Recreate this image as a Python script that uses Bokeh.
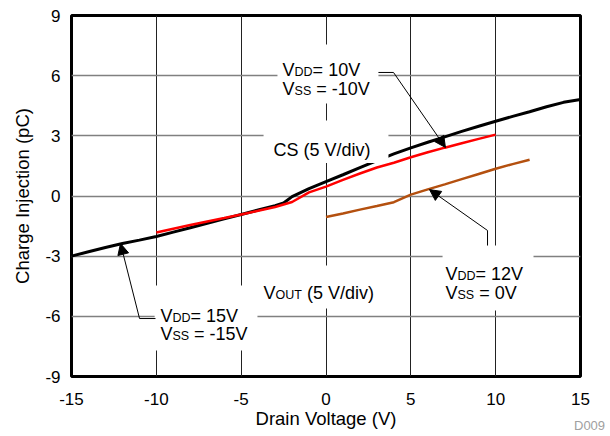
from bokeh.plotting import figure
from bokeh.layouts import column
from bokeh.models import Range1d, FixedTicker, BoxAnnotation, Label, Arrow, NormalHead, Div
from bokeh.embed import file_html
from bokeh.resources import INLINE

# ---------------- data ----------------
x_ticks = [-15, -10, -5, 0, 5, 10, 15]
x_tick_labels = ["-15", "-10", "-5", "0", "5", "10", "15"]
y_ticks = [-9, -6, -3, 0, 3, 6, 9]
y_tick_labels = ["-9", "-6", "-3", "0", "3", "6", "9"]

# VDD = 15V, VSS = -15V (black)
x_15 = [-15, -14, -13, -12, -11, -10, -9, -8, -7, -6, -5, -4, -3, -2.5, -2, -1, 0,
        1, 2, 3, 4, 5, 6, 7, 8, 9, 10, 11, 12, 13, 14, 15]
q_15 = [-3.0, -2.78, -2.57, -2.37, -2.2, -2.02, -1.8, -1.58, -1.36, -1.14, -0.92, -0.7,
        -0.48, -0.35, -0.03, 0.37, 0.72, 1.06, 1.41, 1.76, 2.1, 2.4, 2.68, 2.95, 3.22,
        3.48, 3.73, 3.97, 4.2, 4.45, 4.67, 4.81]

# VDD = 10V, VSS = -10V (red)
x_10 = [-10, -9, -8, -7, -6, -5, -4, -3, -2, -1, 0, 1, 2, 3, 4, 5, 6, 7, 8, 9, 10]
q_10 = [-1.82, -1.63, -1.45, -1.27, -1.1, -0.92, -0.74, -0.55, -0.3, 0.18, 0.47, 0.8,
        1.12, 1.42, 1.66, 1.93, 2.18, 2.41, 2.63, 2.85, 3.06]

# VDD = 12V, VSS = 0V (brown)
x_12 = [0, 1, 2, 3, 4, 5, 6, 7, 8, 9, 10, 11, 12]
q_12 = [-1.05, -0.87, -0.68, -0.5, -0.31, 0.07, 0.33, 0.58, 0.84, 1.1, 1.36, 1.59, 1.81]

FONT = "Liberation Sans"

p = figure(width=606, height=434, x_range=Range1d(-15, 15), y_range=Range1d(-9, 9),
           output_backend="svg", toolbar_location=None,
           min_border_left=71, min_border_right=26, min_border_top=15, min_border_bottom=58)
p.background_fill_color = "white"
p.border_fill_color = "white"
p.outline_line_color = "black"
p.outline_line_width = 3

for ax, ticks, labels in ((p.xaxis, x_ticks, x_tick_labels), (p.yaxis, y_ticks, y_tick_labels)):
    ax.ticker = FixedTicker(ticks=ticks)
    ax.major_label_overrides = {t: l for t, l in zip(ticks, labels)}
    ax.axis_line_color = None
    ax.major_tick_line_color = None
    ax.minor_tick_line_color = None
    ax.major_tick_out = 0
    ax.major_tick_in = 0
    ax.major_label_text_font = FONT
    ax.major_label_text_font_size = "17px"
    ax.major_label_text_color = "black"
    ax.axis_label_text_font = FONT
    ax.axis_label_text_font_size = "18.5px"
    ax.axis_label_text_font_style = "normal"
    ax.axis_label_text_color = "black"

p.xaxis.axis_label = "Drain Voltage (V)"
p.yaxis.axis_label = "Charge Injection (pC)"
p.xaxis.major_label_standoff = 16
p.xaxis.axis_label_standoff = 0
p.yaxis.major_label_standoff = 11
p.yaxis.axis_label_standoff = 9

p.xgrid.grid_line_color = "#222222"
p.xgrid.grid_line_width = 1
p.ygrid.grid_line_color = "#808080"
p.ygrid.grid_line_width = 1.5

p.line(x_15, q_15, line_color="black", line_width=3)
p.line(x_10, q_10, line_color="#ff0000", line_width=2.5)
p.line(x_12, q_12, line_color="#b4500f", line_width=2.5)

# ---------------- annotation layout ----------------
boxes = [
    (-3.68, 3.68, 3.77, 1.64),    # CS
    (-2.86, 3.09, 7.55, 4.61),    # 10V
    (-10.1, -4.04, -4.46, -7.70), # 15V
    (6.87, 12.23, -2.47, -5.71),  # 12V
    (-4.16, 4.1, -3.47, -5.61),   # VOUT
]
for l, r, t, b in boxes:
    p.add_layout(BoxAnnotation(left=l, right=r, top=t, bottom=b, fill_color="white",
                               fill_alpha=1.0, line_color=None))

SIZE = 18
SUB = 12.5
EM = {"D": 0.722, "S": 0.667, "O": 0.778, "U": 0.722, "T": 0.611, " ": 0.278}


def lab(x, y, text, dx=0, dy=0, size=SIZE):
    p.add_layout(Label(x=x, y=y, text=text, x_offset=dx, y_offset=dy,
                       text_font=FONT, text_font_size=f"{size}px", text_color="black",
                       text_align="left", text_baseline="alphabetic"))


def vlab(x, y, sub, rest, gap=0.0):
    lab(x, y, "V")
    w_v = 0.667 * SIZE
    lab(x, y, sub, dx=w_v, dy=-2, size=SUB)
    w_sub = sum(EM[c] for c in sub) * SUB
    lab(x, y, rest, dx=w_v + w_sub + gap * SIZE)


vlab(-2.56, 6.28, "DD", "= 10V")
vlab(-2.56, 5.36, "SS", "= -10V", gap=0.278)
vlab(-9.76, -5.96, "DD", "= 15V")
vlab(-9.76, -6.88, "SS", "= -15V", gap=0.278)
vlab(7.04, -3.91, "DD", "= 12V")
vlab(7.04, -4.84, "SS", "= 0V", gap=0.278)
lab(-3.10, 2.29, "CS (5 V/div)")
vlab(-3.68, -4.86, "OUT", "(5 V/div)", gap=0.278)

leaders = [
    ((3.09, 6.16), (3.98, 6.16), (7.04, 2.42)),
    ((-10.05, -6.11), (-10.99, -6.11), (-12.11, -2.37)),
    ((9.52, -2.47), (9.52, -1.72), (6.10, 0.32)),
]
for a, b, tip in leaders:
    p.add_layout(Arrow(end=None, x_start=a[0], y_start=a[1], x_end=b[0], y_end=b[1],
                       line_color="black", line_width=1))
    p.add_layout(Arrow(end=NormalHead(size=11, fill_color="black", line_color="black"),
                       x_start=b[0], y_start=b[1], x_end=tip[0], y_end=tip[1],
                       line_color="black", line_width=1))

tag = Div(text="D009", width=32, height=15, margin=(-16, 0, 0, 574),
          styles={"color": "#a0a0a0", "font-family": FONT, "font-size": "13px",
                  "line-height": "15px"})

layout = column(p, tag, spacing=0)
open("out.html", "w").write(file_html(layout, INLINE))
